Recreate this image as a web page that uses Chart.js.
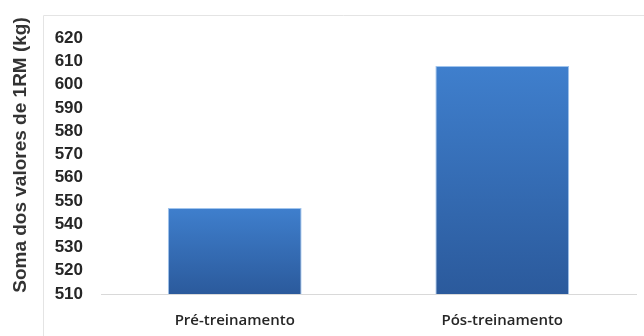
<!DOCTYPE html>
<html>
<head>
<meta charset="utf-8">
<script src="https://cdn.jsdelivr.net/npm/chart.js@4"></script>
<style>
  html, body { margin: 0; padding: 0; background: #ffffff; }
  #wrap { width: 644px; height: 336px; position: relative; }
</style>
</head>
<body>
<div id="wrap"><canvas id="rmChart"></canvas></div>
<script>
const categories = ['Pré-treinamento', 'Pós-treinamento'];
const somaValues = [547, 608];
const yMin = 510;
const yMax = 620;
const yStep = 10;
const yTitle = 'Soma dos valores de 1RM (kg)';

// light frame around the chart (top and left edges visible) + y axis title
const framePlugin = {
    id: 'frame',
    beforeDraw(chart) {
        const ctx = chart.ctx;
        ctx.save();
        ctx.strokeStyle = '#e4e4e4';
        ctx.lineWidth = 1;
        ctx.beginPath();
        ctx.moveTo(43.5, 336);
        ctx.lineTo(43.5, 15.5);
        ctx.lineTo(644, 15.5);
        ctx.stroke();
        ctx.restore();
    },
    afterDraw(chart) {
        const ctx = chart.ctx;
        ctx.save();
        ctx.translate(21, 155);
        ctx.rotate(-Math.PI / 2);
        ctx.font = 'bold 19px "Liberation Sans", Arial, sans-serif';
        ctx.fillStyle = '#333333';
        ctx.textAlign = 'center';
        ctx.textBaseline = 'middle';
        ctx.fillText(yTitle, 0, 0);
        ctx.restore();
    }
};

// per bar vertical gradient, lighter at the top
function barGradient(context) {
    const chart = context.chart;
    if (!chart.chartArea || context.dataIndex === undefined) return '#3669b4';
    const yScale = chart.scales.y;
    const top = yScale.getPixelForValue(somaValues[context.dataIndex]);
    const bottom = yScale.getPixelForValue(yMin);
    const g = chart.ctx.createLinearGradient(0, top, 0, bottom);
    g.addColorStop(0, '#3f7fcd');
    g.addColorStop(1, '#2b5a9c');
    return g;
}

const ctx = document.getElementById('rmChart').getContext('2d');

new Chart(ctx, {
    type: 'bar',
    data: {
        labels: categories,
        datasets: [{
            data: somaValues,
            backgroundColor: barGradient,
            borderColor: 'rgba(150, 190, 235, 0.9)',
            borderWidth: 1,
            barPercentage: 0.5,
            categoryPercentage: 1.0
        }]
    },
    options: {
        responsive: true,
        maintainAspectRatio: false,
        animation: false,
        layout: {
            padding: { left: 0, right: 8, top: 38, bottom: 0 }
        },
        scales: {
            x: {
                grid: { display: false, drawTicks: false },
                border: { display: true, color: '#d9d9d9', width: 1 },
                ticks: {
                    color: '#262626',
                    padding: 18,
                    font: { family: '"Open Sans", sans-serif', size: 15, weight: '600' }
                },
                afterFit(scale) { scale.height = 42; }
            },
            y: {
                min: yMin,
                max: yMax,
                grid: { display: false, drawTicks: false },
                border: { display: false },
                ticks: {
                    stepSize: yStep,
                    autoSkip: false,
                    color: '#262626',
                    padding: 18,
                    font: { family: '"Liberation Sans", Arial, sans-serif', size: 17, weight: 'bold' }
                },
                afterFit(scale) { scale.width = 101; }
            }
        },
        plugins: {
            legend: { display: false },
            tooltip: { enabled: false }
        }
    },
    plugins: [framePlugin]
});
</script>
</body>
</html>
